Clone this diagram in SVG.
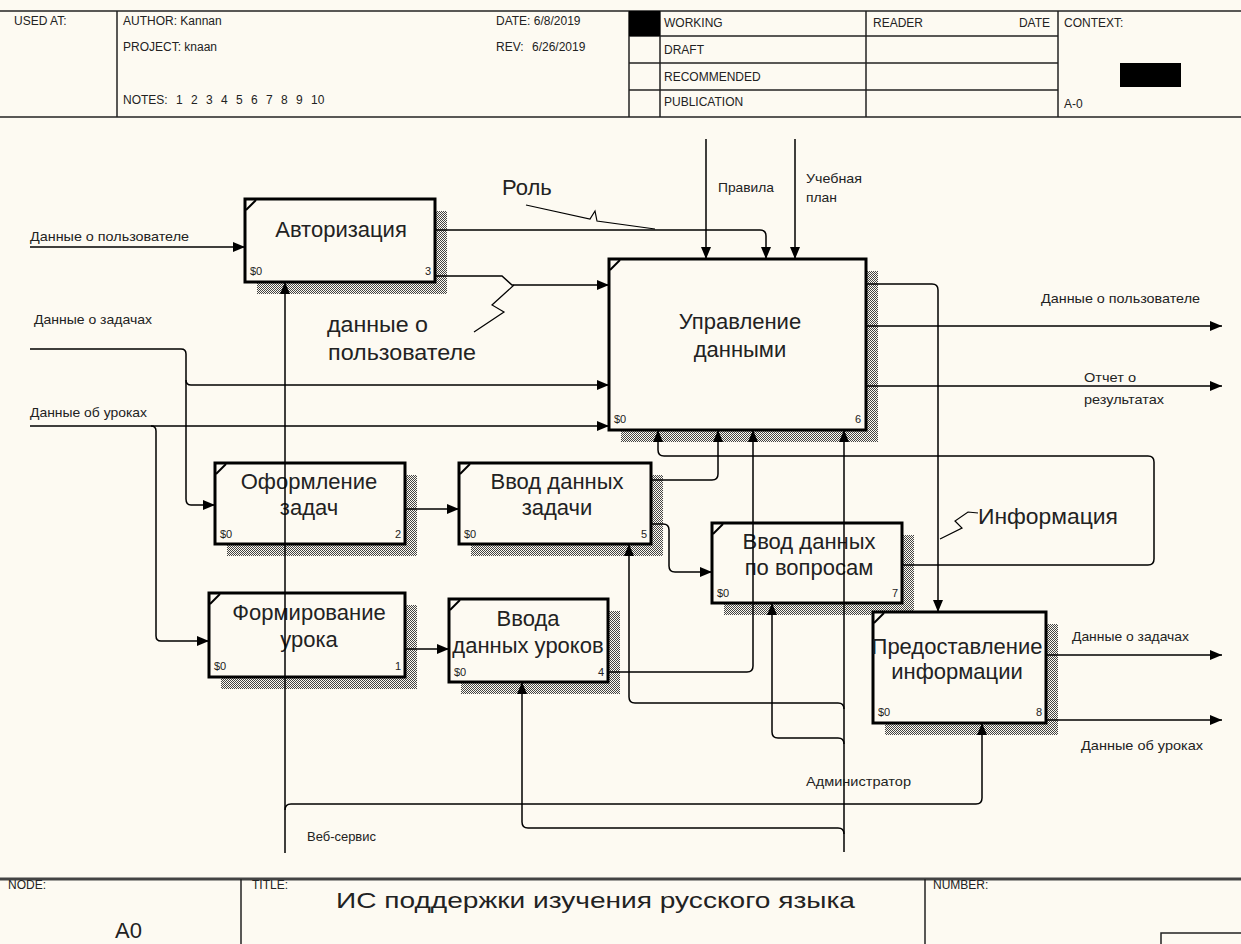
<svg xmlns="http://www.w3.org/2000/svg" width="1241" height="944" viewBox="0 0 1241 944">
<defs>
<pattern id="hatch" width="2" height="2" patternUnits="userSpaceOnUse"><rect x="0" y="0" width="1" height="1" fill="#444"/><rect x="1" y="1" width="1" height="1" fill="#444"/></pattern>
<marker id="ah" markerWidth="12" markerHeight="10" refX="12" refY="5" orient="auto" markerUnits="userSpaceOnUse"><path d="M0,0 L12,5 L0,10 Z" fill="#000"/></marker>
</defs>
<style>
.hdr{font-family:"Liberation Sans",Arial,sans-serif;font-size:12px;fill:#222}
.frame{stroke:#222;stroke-width:1.5;fill:none}
.box{fill:#fdfaf2;stroke:#000;stroke-width:3}
.shadow{fill:url(#hatch)}
.corner{stroke:#000;stroke-width:2;fill:none}
.lbl{font-family:"Liberation Sans",Arial,sans-serif;font-size:22px;fill:#222;text-anchor:middle}
.big{font-family:"Liberation Sans",Arial,sans-serif;font-size:22px;fill:#222}
.sm{font-family:"Liberation Sans",Arial,sans-serif;font-size:13px;fill:#222}
.num{font-family:"Liberation Sans",Arial,sans-serif;font-size:11px;fill:#222}
.nr{font-family:"Liberation Sans",Arial,sans-serif;font-size:11px;fill:#222;text-anchor:end}
#connectors path{fill:none;stroke:#000;stroke-width:1.5}
#connectors .sq{stroke-width:1.2}
</style>
<rect x="0" y="0" width="1241" height="944" fill="#fdfaf2"/>

<g id="header">
<line class="frame" x1="0" y1="11" x2="1241" y2="11"/>
<line class="frame" x1="0" y1="117" x2="1241" y2="117"/>
<line class="frame" x1="117" y1="11" x2="117" y2="117"/>
<line class="frame" x1="629" y1="11" x2="629" y2="117"/>
<line class="frame" x1="660" y1="11" x2="660" y2="117"/>
<line class="frame" x1="866" y1="11" x2="866" y2="117"/>
<line class="frame" x1="1058" y1="11" x2="1058" y2="117"/>
<line class="frame" x1="629" y1="36" x2="1058" y2="36"/>
<line class="frame" x1="629" y1="63" x2="1058" y2="63"/>
<line class="frame" x1="629" y1="90" x2="1058" y2="90"/>
<rect x="629" y="11" width="31" height="25" fill="#000"/>
<rect x="1120" y="63" width="61" height="24" fill="#000"/>
<text class="hdr" x="14" y="25">USED AT:</text>
<text class="hdr" x="123" y="25">AUTHOR:  Kannan</text>
<text class="hdr" x="123" y="51">PROJECT:  knaan</text>
<text class="hdr" x="123" y="104" word-spacing="5">NOTES: 1 2 3 4 5 6 7 8 9 10</text>
<text class="hdr" x="496" y="25">DATE:  6/8/2019</text>
<text class="hdr" x="496" y="51">REV:</text>
<text class="hdr" x="532" y="51">6/26/2019</text>
<text class="hdr" x="664" y="27">WORKING</text>
<text class="hdr" x="664" y="54">DRAFT</text>
<text class="hdr" x="664" y="81">RECOMMENDED</text>
<text class="hdr" x="664" y="106">PUBLICATION</text>
<text class="hdr" x="873" y="27">READER</text>
<text class="hdr" x="1050" y="27" text-anchor="end">DATE</text>
<text class="hdr" x="1064" y="27">CONTEXT:</text>
<text class="hdr" x="1064" y="108">A-0</text>
</g>

<g id="node-auth">
<path class="shadow" d="M435,211 H447 V294 H257 V282 H435 Z"/>
<rect class="box" x="245" y="199" width="190" height="83"/>
<path class="corner" d="M246,210 L256,200"/>
<text class="lbl" x="341" y="237">Авторизация</text>
<text class="num" x="250" y="275">$0</text>
<text class="nr" x="431" y="275">3</text>
</g>

<g id="node-mgmt">
<path class="shadow" d="M866,271 H878 V442 H621 V430 H866 Z"/>
<rect class="box" x="609" y="259" width="257" height="171"/>
<path class="corner" d="M610,270 L620,260"/>
<text class="lbl" x="740" y="329">Управление</text>
<text class="lbl" x="740" y="357">данными</text>
<text class="num" x="614" y="423">$0</text>
<text class="nr" x="861" y="423">6</text>
</g>

<g id="node-tasks">
<path class="shadow" d="M405,475 H417 V556 H227 V544 H405 Z"/>
<rect class="box" x="215" y="463" width="190" height="81"/>
<path class="corner" d="M216,474 L226,464"/>
<text class="lbl" x="309" y="489">Оформление</text>
<text class="lbl" x="309" y="515">задач</text>
<text class="num" x="220" y="538">$0</text>
<text class="nr" x="401" y="538">2</text>
</g>

<g id="node-lesson">
<path class="shadow" d="M405,605 H417 V689 H221 V677 H405 Z"/>
<rect class="box" x="209" y="593" width="196" height="84"/>
<path class="corner" d="M210,604 L220,594"/>
<text class="lbl" x="309" y="620">Формирование</text>
<text class="lbl" x="309" y="647">урока</text>
<text class="num" x="214" y="670">$0</text>
<text class="nr" x="401" y="670">1</text>
</g>

<g id="node-taskinput">
<path class="shadow" d="M651,475 H663 V556 H471 V544 H651 Z"/>
<rect class="box" x="459" y="463" width="192" height="81"/>
<path class="corner" d="M460,474 L470,464"/>
<text class="lbl" x="557" y="489">Ввод данных</text>
<text class="lbl" x="557" y="515">задачи</text>
<text class="num" x="464" y="538">$0</text>
<text class="nr" x="647" y="538">5</text>
</g>

<g id="node-lessoninput">
<path class="shadow" d="M608,611 H620 V694 H461 V682 H608 Z"/>
<rect class="box" x="449" y="599" width="159" height="83"/>
<path class="corner" d="M450,610 L460,600"/>
<text class="lbl" x="528" y="626">Ввода</text>
<text class="lbl" x="528" y="653">данных уроков</text>
<text class="num" x="454" y="676">$0</text>
<text class="nr" x="604" y="676">4</text>
</g>

<g id="node-qinput">
<path class="shadow" d="M902,535 H914 V615 H724 V603 H902 Z"/>
<rect class="box" x="712" y="523" width="190" height="80"/>
<path class="corner" d="M713,534 L723,524"/>
<text class="lbl" x="809" y="549">Ввод данных</text>
<text class="lbl" x="809" y="575">по вопросам</text>
<text class="num" x="717" y="597">$0</text>
<text class="nr" x="898" y="597">7</text>
</g>

<g id="node-info">
<path class="shadow" d="M1046,624 H1058 V735 H885 V723 H1046 Z"/>
<rect class="box" x="873" y="612" width="173" height="111"/>
<path class="corner" d="M874,623 L884,613"/>
<text class="lbl" x="957" y="654">Предоставление</text>
<text class="lbl" x="957" y="679">информации</text>
<text class="num" x="878" y="716">$0</text>
<text class="nr" x="1042" y="716">8</text>
</g>

<g id="connectors">
<path d="M30,247 H245" marker-end="url(#ah)"/>
<path d="M435,230 H760 Q766,230 766,236 V259" marker-end="url(#ah)"/>
<path d="M435,276 H502 L512,285 H609" marker-end="url(#ah)"/>
<path d="M30,349 H181 Q186,349 186,354 V499 Q186,505 191,505 H215" marker-end="url(#ah)"/>
<path d="M186,380 Q186,385 191,385 H609" marker-end="url(#ah)"/>
<path d="M30,426 H609" marker-end="url(#ah)"/>
<path d="M151,426 Q156,426 156,431 V636 Q156,641 161,641 H209" marker-end="url(#ah)"/>
<path d="M706,139 V259" marker-end="url(#ah)"/>
<path d="M795,139 V259" marker-end="url(#ah)"/>
<path d="M866,284 H932 Q938,284 938,290 V612" marker-end="url(#ah)"/>
<path d="M866,326 H1222" marker-end="url(#ah)"/>
<path d="M866,386 H1222" marker-end="url(#ah)"/>
<path d="M405,509 H459" marker-end="url(#ah)"/>
<path d="M405,649 H449" marker-end="url(#ah)"/>
<path d="M651,480 H712 Q718,480 718,474 V430" marker-end="url(#ah)"/>
<path d="M651,524 H663 Q669,524 669,530 V566 Q669,572 675,572 H712" marker-end="url(#ah)"/>
<path d="M608,672 H747 Q753,672 753,666 V430" marker-end="url(#ah)"/>
<path d="M902,565 H1148 Q1154,565 1154,559 V462 Q1154,456 1148,456 H664 Q658,456 658,450 V430" marker-end="url(#ah)"/>
<path d="M1046,655 H1222" marker-end="url(#ah)"/>
<path d="M1046,720 H1222" marker-end="url(#ah)"/>
<path d="M844,852 V430" marker-end="url(#ah)"/>
<path d="M844,709 Q844,703 838,703 H635 Q629,703 629,697 V544" marker-end="url(#ah)"/>
<path d="M844,744 Q844,738 838,738 H778 Q772,738 772,732 V603" marker-end="url(#ah)"/>
<path d="M844,834 Q844,828 838,828 H528 Q522,828 522,822 V682" marker-end="url(#ah)"/>
<path d="M285,853 V282" marker-end="url(#ah)"/>
<path d="M285,810 Q285,804 291,804 H976 Q982,804 982,798 V723" marker-end="url(#ah)"/>
<path class="sq" d="M526,205 L590,219 L595,211 L597,221 L655,229"/>
<path class="sq" d="M474,332 L504,312 L492,305 L514,285"/>
<path class="sq" d="M940,539 L962,528 L955,521 L968,512 L978,513"/>
</g>

<g id="labels">
<text class="sm" x="30" y="241" textLength="159" lengthAdjust="spacingAndGlyphs">Данные о пользователе</text>
<text class="sm" x="34" y="324" textLength="118" lengthAdjust="spacingAndGlyphs">Данные о задачах</text>
<text class="sm" x="30" y="417" textLength="117" lengthAdjust="spacingAndGlyphs">Данные об уроках</text>
<text class="sm" x="718" y="192" textLength="56" lengthAdjust="spacingAndGlyphs">Правила</text>
<text class="sm" x="806" y="183" textLength="56" lengthAdjust="spacingAndGlyphs">Учебная</text>
<text class="sm" x="806" y="202" textLength="31" lengthAdjust="spacingAndGlyphs">план</text>
<text class="sm" x="1041" y="303" textLength="159" lengthAdjust="spacingAndGlyphs">Данные о пользователе</text>
<text class="sm" x="1084" y="382" textLength="52" lengthAdjust="spacingAndGlyphs">Отчет о</text>
<text class="sm" x="1084" y="404" textLength="80" lengthAdjust="spacingAndGlyphs">результатах</text>
<text class="sm" x="1072" y="641" textLength="117" lengthAdjust="spacingAndGlyphs">Данные о задачах</text>
<text class="sm" x="1081" y="750" textLength="122" lengthAdjust="spacingAndGlyphs">Данные об уроках</text>
<text class="sm" x="806" y="786" textLength="105" lengthAdjust="spacingAndGlyphs">Администратор</text>
<text class="sm" x="307" y="841" textLength="69" lengthAdjust="spacingAndGlyphs">Веб-сервис</text>
<text class="big" x="502" y="195">Роль</text>
<text class="big" x="327" y="332" textLength="101" lengthAdjust="spacingAndGlyphs">данные о</text>
<text class="big" x="328" y="360" textLength="148" lengthAdjust="spacingAndGlyphs">пользователе</text>
<text class="big" x="978" y="524" textLength="140" lengthAdjust="spacingAndGlyphs">Информация</text>
</g>

<g id="footer">
<line x1="0" y1="879" x2="1241" y2="879" stroke="#444" stroke-width="3"/>
<line class="frame" x1="241" y1="879" x2="241" y2="944"/>
<line class="frame" x1="925" y1="879" x2="925" y2="944"/>
<rect class="frame" x="1161" y="933" width="100" height="30"/>
<text class="hdr" x="8" y="889" font-size="11">NODE:</text>
<text class="hdr" x="252" y="889" font-size="11">TITLE:</text>
<text class="hdr" x="933" y="889" font-size="11">NUMBER:</text>
<text class="big" x="115" y="938" font-size="22">A0</text>
<text class="big" x="336" y="908" font-size="24" textLength="519" lengthAdjust="spacingAndGlyphs">ИС поддержки изучения  русского языка</text>
</g>
</svg>
